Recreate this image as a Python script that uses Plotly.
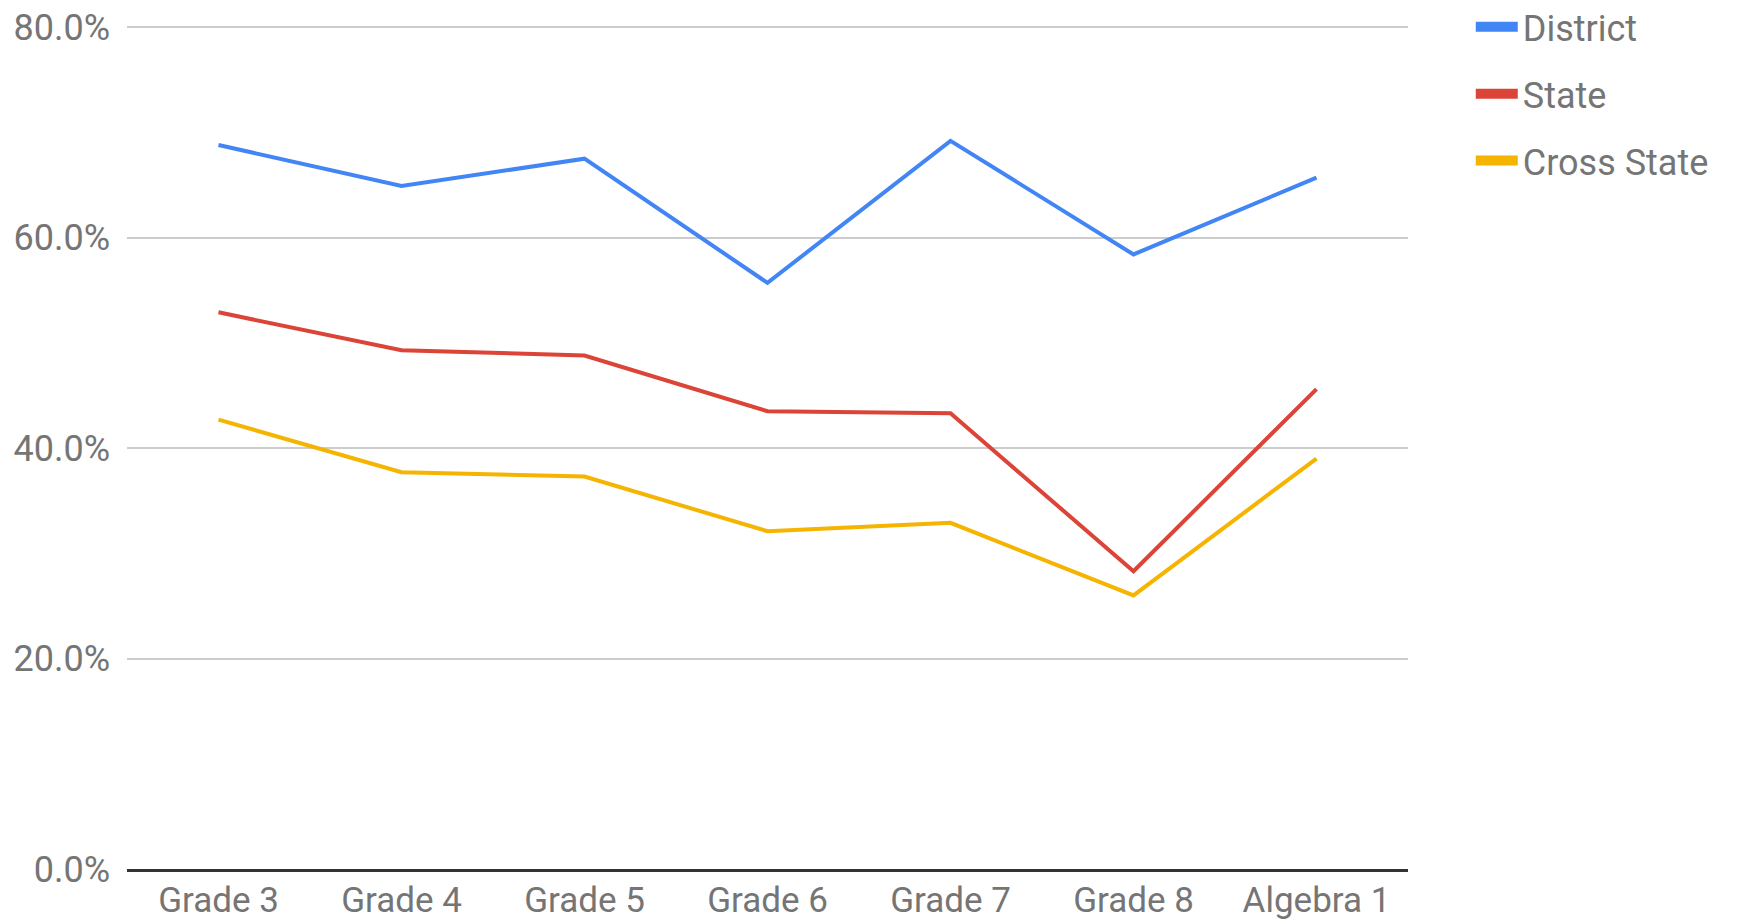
import plotly.graph_objects as go

categories = ["Grade 3", "Grade 4", "Grade 5", "Grade 6", "Grade 7", "Grade 8", "Algebra 1"]
district = [68.8, 64.9, 67.5, 55.7, 69.2, 58.4, 65.7]
state = [52.9, 49.3, 48.8, 43.5, 43.3, 28.3, 45.6]
cross_state = [42.7, 37.7, 37.3, 32.1, 32.9, 26.0, 39.0]
y_ticks = [0, 20, 40, 60, 80]
y_tick_labels = ["0.0%", "20.0%", "40.0%", "60.0%", "80.0%"]

series = [("District", district, "#4285F4"),
          ("State", state, "#DB4437"),
          ("Cross State", cross_state, "#F4B400")]

fig = go.Figure()
for name, vals, color in series:
    fig.add_trace(go.Scatter(x=categories, y=vals, mode="lines", name=name,
                             line=dict(color=color, width=4), showlegend=False,
                             hoverinfo="x+y+name"))
for name, vals, color in series:
    fig.add_trace(go.Scatter(x=[None], y=[None], mode="lines", name=name,
                             legendgroup=name,
                             line=dict(color=color, width=10), showlegend=True))

fig.update_layout(
    width=1729, height=915,
    margin=dict(l=119, r=329, t=16, b=54, autoexpand=False),
    paper_bgcolor="white", plot_bgcolor="white",
    font=dict(family="Roboto", size=36, color="#757575"),
    legend=dict(x=1.049, y=1.032, xanchor="left", yanchor="top",
                font=dict(size=36, color="#757575"), tracegroupgap=17,
                itemwidth=42, bgcolor="rgba(0,0,0,0)"),
    xaxis=dict(type="category", range=[-0.5, 6.5], showgrid=False,
               showline=True, linecolor="#333333", linewidth=3,
               ticks="", tickfont=dict(size=35, color="#757575"),
               ticklabelstandoff=-2, ticklabeloverflow="allow"),
    yaxis=dict(range=[0, 80.3], tickvals=y_ticks, ticktext=y_tick_labels,
               showgrid=True, gridcolor="#cccccc", gridwidth=2, zeroline=False,
               ticks="", tickfont=dict(size=36, color="#757575"),
               ticklabelstandoff=16, ticklabeloverflow="allow"),
)

fig.write_html("out.html")
